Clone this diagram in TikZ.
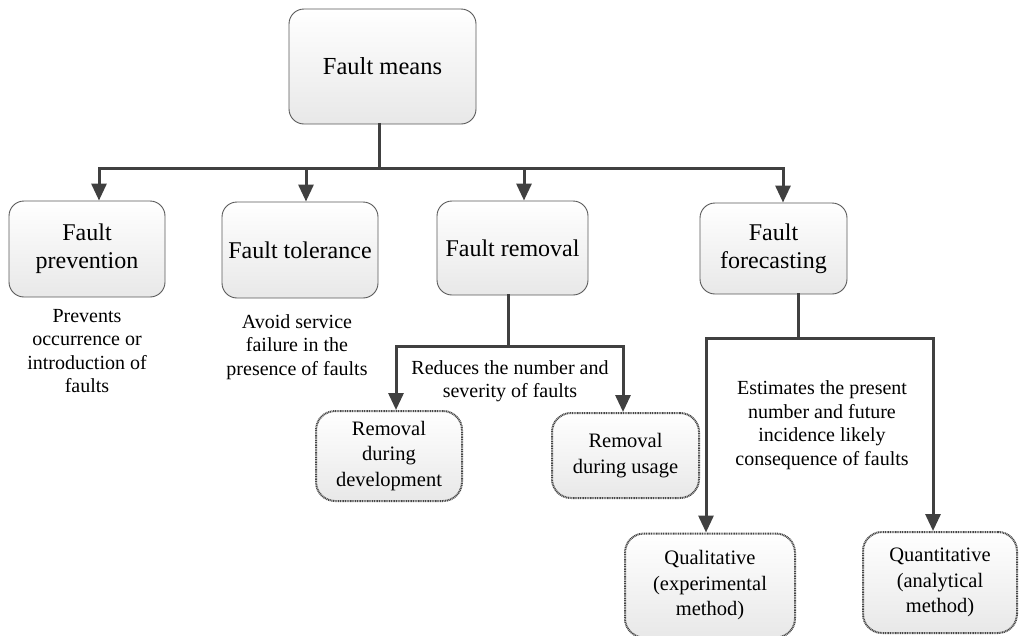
\documentclass[tikz,border=0pt]{standalone}
\usepackage{fontspec}
\setmainfont{Liberation Serif}
\usetikzlibrary{arrows.meta}
\begin{document}
\begin{tikzpicture}[x=1pt,y=-1pt,
  mainbox/.style={draw=black!65, line width=0.9pt, rounded corners=15pt,
    top color=white, bottom color=black!9, align=center, inner sep=0pt,
    font=\fontsize{24}{28}\selectfont},
  leafbox/.style={draw=black!72, line width=2pt, dash pattern=on 1pt off 0.7pt,
    rounded corners=19pt, top color=white, bottom color=black!9, align=center,
    inner sep=0pt, font=\fontsize{20.5}{25.5}\selectfont},
  desc/.style={align=center, inner sep=0pt, font=\fontsize{20}{23.5}\selectfont},
  conn/.style={draw=black!75, line width=3pt, line cap=rect},
  arr/.style={draw=black!75, line width=3pt, -{Triangle[length=17pt,width=15pt]}}
]
\useasboundingbox (0,0) rectangle (1019,635);

% nodes
\node[mainbox, minimum width=187pt, minimum height=115pt] (means) at (382.5,66.5) {\fontsize{24.5}{28}\selectfont Fault means};
\node[mainbox, minimum width=156pt, minimum height=96pt] (prev) at (87,249) {Fault\\prevention};
\node[mainbox, minimum width=156pt, minimum height=96pt] (tol) at (300,250) {Fault tolerance};
\node[mainbox, minimum width=151pt, minimum height=94pt] (rem) at (512.5,248) {Fault removal};
\node[mainbox, minimum width=147pt, minimum height=91pt] (fore) at (773.5,248.5) {Fault\\forecasting};

\node[desc] (dprev) at (87,351) {Prevents\\occurrence or\\introduction of\\faults};
\node[desc] (dtol) at (297,347) {Avoid service\\failure in the\\presence of faults};
\node[desc] (drem) at (510,381) {Reduces the number and\\severity of faults};
\node[desc] (dfore) at (822,425) {Estimates the present\\number and future\\incidence likely\\consequence of faults};

\node[leafbox, minimum width=146pt, minimum height=90pt] (dev) at (389,456) {Removal\\during\\development};
\node[leafbox, minimum width=147pt, minimum height=85pt] (use) at (625.5,455.5) {Removal\\during usage};
\node[leafbox, minimum width=170pt, minimum height=104pt] (qual) at (710,585.5) {Qualitative\\(experimental\\method)};
\node[leafbox, minimum width=154pt, minimum height=101pt] (quan) at (940,582.5) {Quantitative\\(analytical\\method)};

% top level connectors
\coordinate (b0) at (379,168);
\draw[conn] ([xshift=-3.5pt]means.south) -- ([xshift=-3.5pt]means.south |- b0);
\draw[conn] ([xshift=12pt]prev.north |- b0) -- ([xshift=9.5pt]fore.north |- b0);
\draw[arr] ([xshift=12pt]prev.north |- b0) -- ([xshift=12pt]prev.north);
\draw[arr] ([xshift=6pt]tol.north |- b0) -- ([xshift=6pt]tol.north);
\draw[arr] ([xshift=11.5pt]rem.north |- b0) -- ([xshift=11.5pt]rem.north);
\draw[arr] ([xshift=9.5pt]fore.north |- b0) -- ([xshift=9.5pt]fore.north);

% removal branch
\coordinate (b1) at (508,346);
\draw[conn] ([xshift=-4.5pt]rem.south) -- ([xshift=-4.5pt]rem.south |- b1);
\draw[conn] ([xshift=7pt]dev.north |- b1) -- ([xshift=-2.5pt]use.north |- b1);
\draw[arr] ([xshift=7pt]dev.north |- b1) -- ([xshift=7pt]dev.north);
\draw[arr] ([xshift=-2.5pt]use.north |- b1) -- ([xshift=-2.5pt]use.north);

% forecasting branch
\coordinate (b2) at (798,338);
\draw[conn] ([xshift=24.5pt]fore.south) -- ([xshift=24.5pt]fore.south |- b2);
\draw[conn] ([xshift=-4pt]qual.north |- b2) -- ([xshift=-7pt]quan.north |- b2);
\draw[arr] ([xshift=-4pt]qual.north |- b2) -- ([xshift=-4pt]qual.north);
\draw[arr] ([xshift=-7pt]quan.north |- b2) -- ([xshift=-7pt]quan.north);
\end{tikzpicture}
\end{document}
